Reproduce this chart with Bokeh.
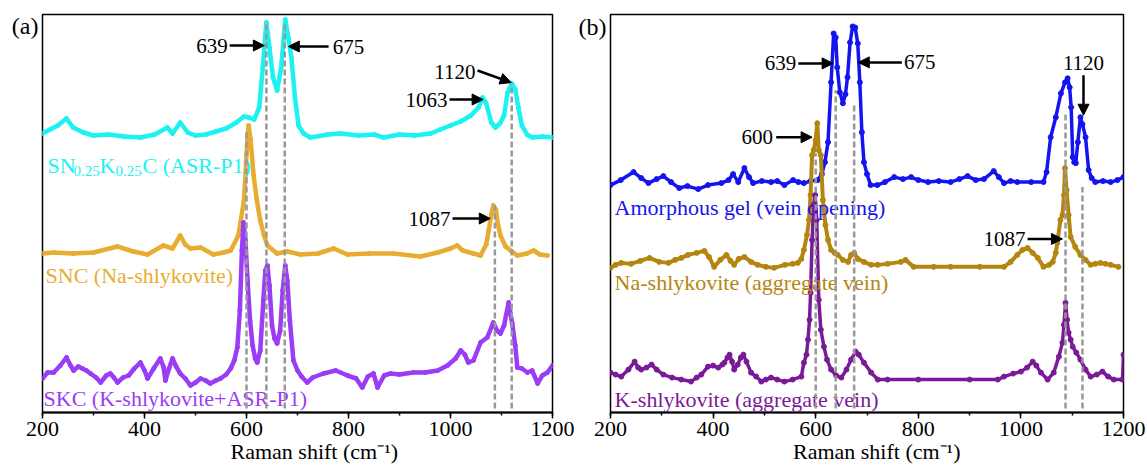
from bokeh.plotting import figure
from bokeh.layouts import row
from bokeh.models import Range1d, Label, Arrow, NormalHead, SingleIntervalTicker, FixedTicker, LinearAxis
from bokeh.embed import file_html
from bokeh.resources import INLINE

FONT = "Liberation Serif"

# ---------------- Panel (a) data ----------------
a_cyan_x = [200,215,230,247,260,280,300,330,360,392,420,445,455,470,485,500,520,540,560,580,
            595,605,615,625,632,639,645,652,660,668,676,682,688,695,702,712,725,760,784,820,
            850,869,900,930,961,980,1000,1020,1040,1055,1063,1070,1080,1088,1097,1105,1112,1120,1127,1133,
            1140,1150,1160,1180,1200]
a_cyan_y = [4,8,12,19,10,5,2,3,1,0,3,10,4,15,5,2,3,6,9,15,
            21,20,18,30,70,115,90,60,47,70,118,100,80,40,12,4,0,3,4,2,
            3,0,3,2,4,8,12,16,22,30,40,34,15,10,14,22,45,54,48,30,
            12,3,0,1,0]
a_cyan_offset = 275

a_orange_x = [200,222,260,300,347,378,406,437,455,470,480,490,510,535,555,569,584,595,600,604,
              608,614,620,627,634,641,660,680,706,740,771,798,840,888,941,975,1000,1013,1024,1045,
              1059,1070,1075,1080,1084,1089,1093,1098,1108,1118,1131,1150,1163,1175,1190]
a_orange_y = [1,2,1,2,8,3,0,9,6,19,10,6,7,0,2,4,19,54,100,129,
              115,79,55,34,20,9,1,3,0,1,6,0,1,1,-2,2,6,9,4,1,
              -1,10,24,40,49,45,30,19,8,4,-1,1,4,0,-1]
a_orange_offset = 158

a_purple_x = [200,210,222,235,247,255,261,270,278,286,294,305,314,325,333,340,347,358,369,380,
              392,400,406,418,431,437,441,448,455,462,470,480,490,500,510,520,529,540,549,560,
              569,576,582,587,591,594,598,602,607,612,617,621,627,633,637,641,645,650,655,660,
              666,671,676,680,685,692,700,708,719,730,751,775,798,815,827,838,849,857,870,882,
              900,927,950,975,994,1010,1020,1028,1035,1045,1059,1072,1084,1091,1098,1105,1114,1121,1127,1131,
              1140,1151,1160,1171,1180,1190,1200]
a_purple_y = [2,8,8,15,23,15,10,14,12,10,7,3,-2,5,7,3,-2,3,5,12,
              18,10,2,12,22,14,0,12,22,14,7,2,-5,-2,2,0,-3,0,2,6,
              12,20,33,70,130,158,140,100,60,35,22,18,30,80,110,115,95,55,42,37,
              50,90,115,100,60,20,10,4,-2,3,7,10,5,2,-7,4,7,-7,5,7,
              6,8,8,10,15,22,30,26,18,20,38,43,58,50,47,55,78,57,35,13,
              12,8,10,-3,5,8,15]
a_purple_offset = 32

a_peaks = [600, 639, 675, 1087, 1120]
a_peak_tops = [282, 390, 390, 207, 329]

# ---------------- Panel (b) data ----------------
b_blue_x = [200,220,245,260,274,290,303,318,334,350,371,390,416,430,439,449,461,470,478,495,
            513,525,539,556,566,577,590,604,612,618,624,630,635,639,642,647,653,658,662,667,
            672,677,682,686,690,694,700,707,720,735,753,770,786,800,819,840,863,880,896,912,
            928,947,957,967,980,993,1020,1044,1050,1058,1068,1078,1086,1091,1095,1098,1101,1104,1107,1111,
            1116,1120,1126,1132,1138,1145,1160,1175,1188,1200]
b_blue_y = [-3,2,10,4,-1,3,6,0,-6,-4,-7,-3,-1,2,8,0,14,5,-1,1,
            0,1,-3,2,0,-1,1,2,8,20,40,100,149,145,115,90,79,88,105,140,
            156,155,139,100,50,20,8,-3,-3,0,5,3,5,2,0,1,0,3,6,2,
            3,11,5,-1,1,0,0,0,10,45,65,89,100,104,95,75,25,20,19,40,
            65,58,45,12,4,0,1,0,2,5]
b_blue_offset = 231

b_brown_x = [200,210,221,240,258,276,295,313,326,338,351,368,383,392,402,414,426,434,441,450,
             461,474,487,503,519,540,555,565,572,577,583,587,590,593,596,600,603,606,610,614,
             619,624,630,637,643,653,663,669,675,682,694,708,721,740,766,775,791,830,863,920,
             967,980,993,1003,1013,1023,1033,1044,1055,1062,1068,1071,1077,1081,1084,1086,1089,1093,1097,1106,
             1116,1126,1136,1145,1155,1165,1175,1190]
b_brown_y = [-3,0,2,1,4,7,3,2,5,7,10,12,14,8,-2,5,10,4,0,6,
             8,3,0,-2,-3,0,1,2,6,15,30,45,70,110,115,125,142,115,110,65,
             40,25,15,12,10,5,3,10,12,6,3,0,0,1,3,5,-2,-2,-2,-2,
             -2,3,10,15,17,12,7,-2,0,3,12,22,45,50,70,97,75,50,28,18,
             10,5,0,1,2,1,0,-2]
b_brown_offset = 148

b_purple_x = [200,210,221,235,247,254,260,270,280,290,303,320,338,357,368,377,390,400,410,418,
              422,428,432,437,441,448,454,459,465,474,484,494,503,513,525,539,555,572,577,582,
              585,588,590,593,596,599,602,606,610,616,622,630,640,650,660,669,678,684,694,708,
              721,740,800,900,955,967,985,1000,1012,1023,1030,1039,1052,1064,1074,1081,1084,1087,1090,1093,
              1097,1101,1108,1116,1126,1136,1148,1159,1170,1181,1198,1200]
b_purple_y = [7,5,3,10,18,12,10,12,15,10,5,2,0,-2,2,5,13,14,12,15,
              17,22,25,18,10,15,22,25,18,7,3,-2,0,2,0,-2,0,3,17,25,
              40,60,87,140,175,185,160,80,50,33,20,10,4,2,10,20,28,25,17,7,
              0,0,0,0,0,3,6,8,12,18,14,7,0,7,23,37,55,77,60,47,
              40,33,27,20,10,3,5,8,3,0,0,25]
b_purple_offset = 33

b_peaks = [600, 639, 675, 1087, 1120]
b_peak_tops = [260, 323, 310, 300, 226]

X_LABEL = "Raman shift (cm\u207b\u00b9)"

# annotations: (text, tx, ty, align, x0, y0, x1, y1)
a_notes = [
    ("639", 563, 367, "right", 567, 367, 635, 367),
    ("675", 769, 366, "left", 761, 366, 682, 366),
    ("1120", 1049, 341, "right", 1053, 342, 1119, 330),
    ("1063", 994, 313, "right", 998, 313, 1064, 313),
    ("1087", 1000, 194, "right", 1004, 194, 1078, 194),
]
b_notes = [
    ("639", 562, 350, "right", 566, 350, 634, 350),
    ("675", 772, 351, "left", 768, 351, 683, 351),
    ("600", 517, 276, "right", 523, 276, 593, 276),
    ("1087", 1009, 174, "right", 1013, 174, 1081, 174),
]


def base_fig(width, left, right, bottom, ymax, panel_tag, tag_y, xlabel_pos):
    p = figure(width=width, height=470, x_range=Range1d(200, 1200), y_range=Range1d(0, ymax),
               output_backend="svg", toolbar_location=None, y_axis_location=None,
               min_border_left=left, min_border_right=right, min_border_top=14,
               min_border_bottom=bottom, background_fill_color="white",
               border_fill_color="white", outline_line_color="black", outline_line_width=1.5)
    p.xgrid.grid_line_color = None
    p.ygrid.grid_line_color = None
    ax = p.xaxis[0]
    ax.ticker = SingleIntervalTicker(interval=200, num_minor_ticks=2)
    ax.major_label_text_font = FONT
    ax.major_label_text_font_size = "22px"
    ax.major_label_text_color = "black"
    ax.axis_line_width = 2
    ax.axis_line_color = "black"
    ax.major_tick_in = 0
    ax.major_tick_out = 6
    ax.minor_tick_in = 0
    ax.minor_tick_out = 3
    ax.major_tick_line_width = 1.5
    ax.minor_tick_line_width = 1.5
    ax.major_label_standoff = 3

    # x axis title placed through an extra label-only axis
    lab = LinearAxis(ticker=FixedTicker(ticks=[xlabel_pos], minor_ticks=[]),
                     major_label_overrides={xlabel_pos: X_LABEL},
                     axis_line_color=None, major_tick_line_color=None, minor_tick_line_color=None,
                     major_tick_in=0, major_tick_out=0, minor_tick_in=0, minor_tick_out=0,
                     major_label_standoff=0, major_label_text_font=FONT,
                     major_label_text_font_size="22px", major_label_text_color="black")
    p.add_layout(lab, "below")

    # panel tag "(a)" / "(b)" placed through a label-only left axis
    tag = LinearAxis(ticker=FixedTicker(ticks=[tag_y], minor_ticks=[]),
                     major_label_overrides={tag_y: panel_tag},
                     axis_line_color=None, major_tick_line_color=None, minor_tick_line_color=None,
                     major_tick_in=0, major_tick_out=0, minor_tick_in=0, minor_tick_out=0,
                     major_label_standoff=4, major_label_text_font=FONT,
                     major_label_text_font_size="24px", major_label_text_color="black")
    p.add_layout(tag, "left")
    return p


def add_series(p, xs, ys, offset, color, lw, ms):
    yy = [v + offset for v in ys]
    p.line(xs, yy, line_color=color, line_width=lw, line_join="round", line_cap="round")
    p.scatter(xs, yy, size=ms, fill_color=color, line_color=color)


def add_text(p, x, y, text, size, color="black", align="left", baseline="middle", xoff=0):
    p.add_layout(Label(x=x, y=y, text=text, text_font=FONT, text_font_size=size,
                       text_color=color, text_align=align, text_baseline=baseline,
                       x_offset=xoff))


def add_arrow(p, x0, y0, x1, y1):
    p.add_layout(Arrow(end=NormalHead(size=11, fill_color="black", line_color="black", line_width=1),
                       x_start=x0, y_start=y0, x_end=x1, y_end=y1,
                       line_width=2.5, line_color="black"))


def add_notes(p, notes):
    for t, tx, ty, al, x0, y0, x1, y1 in notes:
        add_text(p, tx, ty, t, "21px", align=al)
        add_arrow(p, x0, y0, x1, y1)


# ---------------- Panel (a) ----------------
pa = base_fig(575, 42, 23, 58, 398, "(a)", 387, 733)
add_series(pa, a_cyan_x, a_cyan_y, a_cyan_offset, "#1CF2F2", 4.5, 4)
add_series(pa, a_orange_x, a_orange_y, a_orange_offset, "#E8AD30", 4.5, 4)
add_series(pa, a_purple_x, a_purple_y, a_purple_offset, "#9B3CF6", 4.5, 4)
pa.segment(x0=a_peaks, y0=[4] * len(a_peaks), x1=a_peaks, y1=a_peak_tops,
           line_color="#999999", line_width=2.5, line_dash="6 3", level="overlay")
add_notes(pa, a_notes)

cy = "#1CF2F2"
add_text(pa, 210, 247, "SN", "22px", cy, baseline="alphabetic")
add_text(pa, 210, 242, "0.25", "15px", cy, baseline="alphabetic", xoff=26)
add_text(pa, 210, 247, "K", "22px", cy, baseline="alphabetic", xoff=52)
add_text(pa, 210, 242, "0.25", "15px", cy, baseline="alphabetic", xoff=68)
add_text(pa, 210, 247, "C (ASR-P1)", "22px", cy, baseline="alphabetic", xoff=95)
add_text(pa, 206, 137, "SNC (Na-shlykovite)", "22px", "#E8AD30")
add_text(pa, 202, 14, "SKC (K-shlykovite+ASR-P1)", "22px", "#9B3CF6")

# ---------------- Panel (b) ----------------
pb = base_fig(572, 34, 24, 57, 399, "(b)", 386, 719)
add_series(pb, b_blue_x, b_blue_y, b_blue_offset, "#1414F0", 3.5, 5)
add_series(pb, b_brown_x, b_brown_y, b_brown_offset, "#B5860F", 4, 5)
add_series(pb, b_purple_x, b_purple_y, b_purple_offset, "#7A1A98", 3.5, 5)
pb.segment(x0=b_peaks, y0=[4] * len(b_peaks), x1=b_peaks, y1=b_peak_tops,
           line_color="#999999", line_width=2.5, line_dash="6 3", level="overlay")
add_notes(pb, b_notes)
add_text(pb, 1122, 350, "1120", "21px", align="center")
add_arrow(pb, 1122, 338, 1122, 298)
add_text(pb, 208, 206, "Amorphous gel (vein opening)", "22px", "#1414F0")
add_text(pb, 208, 130, "Na-shlykovite (aggregate vein)", "22px", "#B5860F")
add_text(pb, 208, 13, "K-shlykovite (aggregate vein)", "22px", "#7A1A98")

layout = row(pa, pb)
open("out.html", "w").write(file_html(layout, INLINE))
